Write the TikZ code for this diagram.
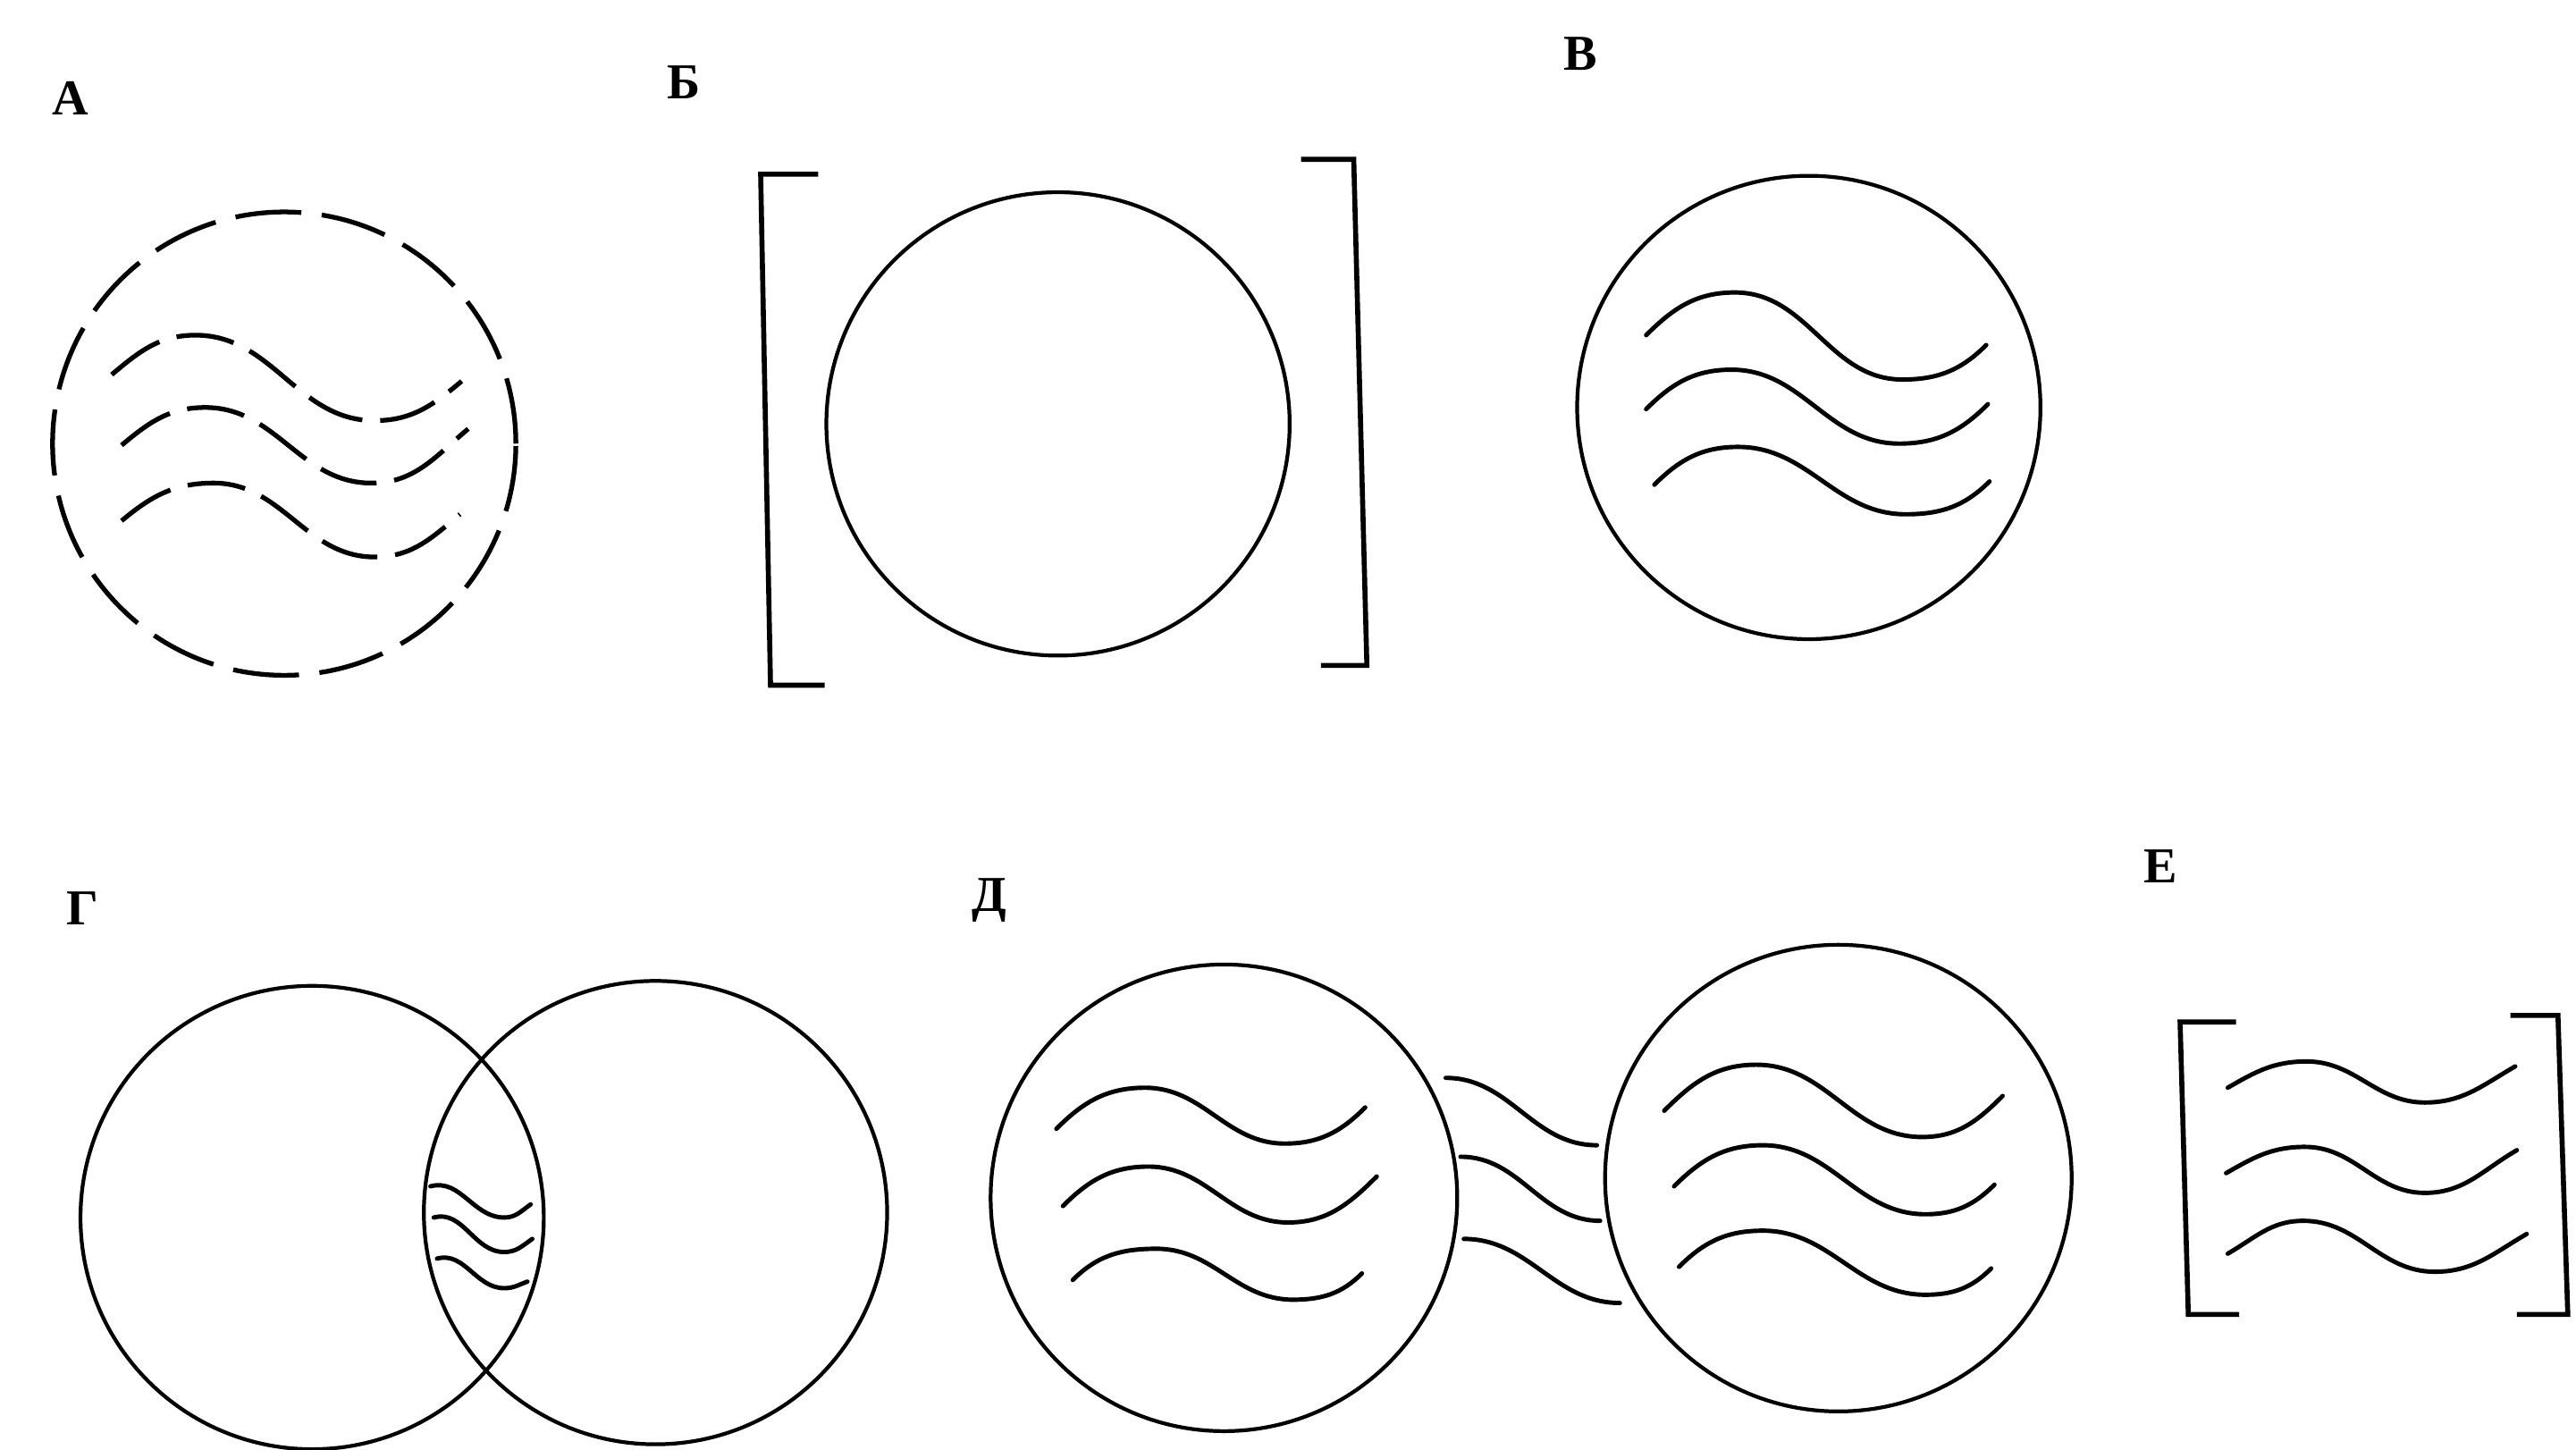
\documentclass[tikz,border=0pt]{standalone}
\usepackage{fontspec}
\setmainfont{Liberation Serif}

% one wave: start, crest, trough, end (optional: rise angle at the ends)
\newcommand{\wave}[5][45]{%
    \pgfmathsetmacro\wavein{180+#1}%
    \draw[wavy] (#2) to[out=#1, in=180] (#3) to[out=0, in=180] (#4)
        to[out=0, in=\wavein] (#5);}

\begin{document}
\begin{tikzpicture}[
    x=0.1838mm, y=0.1838mm,
    % --- line styles ---
    ring/.style={draw=black, line width=1.2pt},
    dashring/.style={ring, line width=1.5pt, dash pattern=on 7.4mm off 2.3mm},
    wavy/.style={draw=black, line width=1.4pt, line cap=round},
    bracket/.style={draw=black, line width=1.6pt, line join=miter},
    tag/.style={font=\fontsize{16}{18}\selectfont\bfseries, inner sep=0pt},
]
\useasboundingbox (0,0) rectangle (1568,-882);

% ===== A: dashed circle, dashed waves =====
\node[tag] (labA) at (43,-60) {А};
\coordinate (ca) at (173,-270);
\draw[dashring] (ca) circle[radius=141];
\begin{scope}[wavy/.append style={line width=1.5pt, line cap=butt,
                                  dash pattern=on 6.5mm off 2mm}]
\wave[40]{68,-228}{119,-204}{228,-256}{281,-232}
\wave[40]{74,-271}{125,-248}{226,-294}{285,-261}
\wave[40]{74,-317}{130,-294}{228,-339}{280,-313}
\end{scope}

% ===== B: circle in brackets =====
\node[tag] (labB) at (416,-50) {Б};
\coordinate (cb) at (644,-258);
\draw[ring] (cb) circle[radius=141];
\draw[bracket] (498,-106) -- (463,-106) -- (469,-417) -- (502,-417);
\draw[bracket] (792,-97) -- (824,-97) -- (832,-405) -- (804,-405);

% ===== V: circle with waves =====
\node[tag] (labV) at (962,-33) {В};
\coordinate (cv) at (1101,-248);
\draw[ring] (cv) circle[radius=141];
\wave{1002,-204}{1056,-178}{1158,-231}{1209,-210}
\wave{1002,-249}{1054,-225}{1156,-270}{1210,-246}
\wave{1007,-295}{1058,-272}{1160,-313}{1211,-293}

% ===== G: two overlapping circles =====
\node[tag] (labG) at (50,-553) {Г};
\coordinate (cg1) at (190,-741);
\coordinate (cg2) at (399,-738);
\draw[ring] (cg1) circle[radius=141];
\draw[ring] (cg2) circle[radius=141];
\draw[wavy] (262,-722) to[out=15, in=180] (307,-741) to[out=0, in=215] (323,-733);
\draw[wavy] (264,-741) to[out=15, in=180] (307,-762) to[out=0, in=215] (324,-754);
\draw[wavy] (266,-766) to[out=15, in=180] (307,-784) to[out=0, in=200] (321,-780);

% ===== D: two circles linked by waves =====
\node[tag] (labD) at (602,-548) {Д};
\coordinate (cd1) at (745,-729);
\coordinate (cd2) at (1119,-717);
\draw[ring] (cd1) circle[radius=142];
\draw[ring] (cd2) circle[radius=142];
\wave{643,-687}{697,-662}{782,-696}{831,-674}
\wave{647,-734}{699,-710}{784,-744}{838,-716}
\wave{653,-779}{704,-760}{787,-791}{829,-775}
\draw[wavy] (880,-656) to[out=0, in=180] (972,-697);
\draw[wavy] (889,-704) to[out=0, in=180] (974,-743);
\draw[wavy] (891,-754) to[out=0, in=180] (986,-793);
\wave{1013,-676}{1069,-648}{1170,-692}{1219,-667}
\wave{1019,-722}{1073,-697}{1172,-739}{1214,-721}
\wave{1022,-771}{1073,-749}{1172,-788}{1212,-772}

% ===== E: waves in brackets =====
\node[tag] (labE) at (1315,-527) {Е};
\draw[bracket] (1361,-622) -- (1327,-622) -- (1332,-800) -- (1363,-800);
\draw[bracket] (1528,-618) -- (1557,-618) -- (1563,-800) -- (1532,-800);
\wave[30]{1356,-662}{1404,-646}{1476,-671}{1531,-649}
\wave[30]{1355,-714}{1403,-698}{1476,-726}{1532,-700}
\wave[30]{1356,-763}{1402,-743}{1482,-774}{1538,-751}

\end{tikzpicture}
\end{document}
